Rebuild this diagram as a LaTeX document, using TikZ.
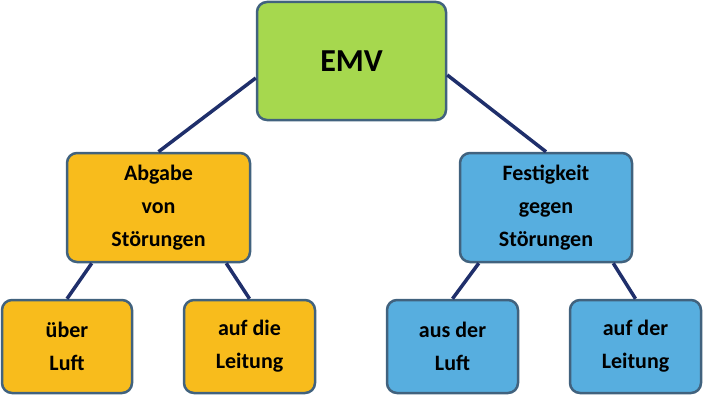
\documentclass[tikz,border=0pt]{standalone}
\usepackage{fontspec}
\setmainfont{Carlito}
\usetikzlibrary{positioning}
\begin{document}
\begin{tikzpicture}[x=1pt,y=1pt,
  box/.style={draw=bordc,line width=2.5pt,rounded corners=10pt,inner sep=0pt,align=center,
    font=\bfseries\fontsize{22}{33}\selectfont},
  conn/.style={draw=linec,line width=3.5pt}]
\definecolor{bordc}{HTML}{41627E}
\definecolor{linec}{HTML}{1F2F6B}
\definecolor{gr}{HTML}{A6D84E}
\definecolor{orc}{HTML}{F8BC1C}
\definecolor{blc}{HTML}{57AEDF}
\useasboundingbox (0,0) rectangle (703,-401);
\node[box,fill=gr,minimum width=189pt,minimum height=118pt,font=\bfseries\fontsize{32}{38}\selectfont] (emv) at (351.5,-61) {EMV};
\node[box,fill=orc,minimum width=183pt,minimum height=109pt] (abg) at (158.5,-207.5) {Abgabe\\von\\Störungen};
\node[box,fill=blc,minimum width=172pt,minimum height=109pt] (fest) at (546,-207.5) {Festigkeit\\gegen\\Störungen};
\node[box,fill=orc,minimum width=130pt,minimum height=93pt] (l1) at (67,-346.5) {über\\Luft};
\node[box,fill=orc,minimum width=131pt,minimum height=93pt] (l2) at (249.5,-346.5) {auf die\\Leitung};
\node[box,fill=blc,minimum width=131pt,minimum height=93pt] (l3) at (452.5,-346.5) {aus der\\Luft};
\node[box,fill=blc,minimum width=131pt,minimum height=93pt] (l4) at (635.5,-346.5) {auf der\\Leitung};
\begin{scope}[on background layer/.style={}]
\end{scope}
\draw[conn] ([yshift=-17pt]emv.west) -- (abg.north);
\draw[conn] ([yshift=-14pt]emv.east) -- (fest.north);
\draw[conn] ([xshift=26pt]abg.south west) -- (l1.north);
\draw[conn] ([xshift=-25pt]abg.south east) -- (l2.north);
\draw[conn] ([xshift=20pt]fest.south west) -- (l3.north);
\draw[conn] ([xshift=-20pt]fest.south east) -- (l4.north);
\end{tikzpicture}
\end{document}
